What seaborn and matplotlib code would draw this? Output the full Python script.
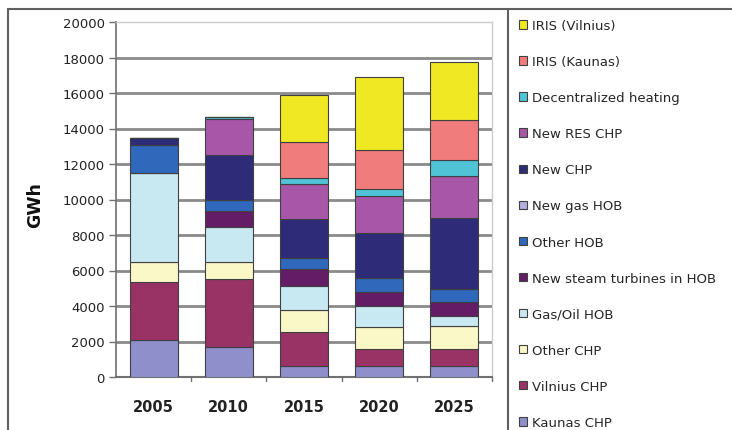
import matplotlib
matplotlib.use("Agg")
import matplotlib.pyplot as plt
import seaborn as sns
import numpy as np
from matplotlib.patches import Patch
from matplotlib.lines import Line2D

years = ["2005", "2010", "2015", "2020", "2025"]
series = ["Kaunas CHP", "Vilnius CHP", "Other CHP", "Gas/Oil HOB",
          "New steam turbines in HOB", "Other HOB", "New gas HOB", "New CHP",
          "New RES CHP", "Decentralized heating", "IRIS (Kaunas)", "IRIS (Vilnius)"]
kaunas_chp = [2100, 1700, 600, 600, 600]
vilnius_chp = [3250, 3800, 1950, 1000, 1000]
other_chp = [1150, 1000, 1200, 1200, 1250]
gas_oil_hob = [5000, 1950, 1400, 1200, 600]
new_steam_hob = [0, 900, 950, 800, 750]
other_hob = [1550, 650, 600, 800, 750]
new_gas_hob = [0, 0, 0, 0, 0]
new_chp = [400, 2500, 2200, 2500, 4000]
new_res_chp = [0, 2050, 2000, 2100, 2350]
decentralized = [0, 80, 300, 400, 900]
iris_kaunas = [0, 0, 2050, 2200, 2300]
iris_vilnius = [0, 0, 2650, 4100, 3250]
values = [kaunas_chp, vilnius_chp, other_chp, gas_oil_hob, new_steam_hob, other_hob,
          new_gas_hob, new_chp, new_res_chp, decentralized, iris_kaunas, iris_vilnius]
colors = ["#8f8fcc", "#993366", "#fbf8c8", "#c8e9f1", "#641c66", "#3068bc",
          "#b4aedc", "#2e2b78", "#a857a8", "#50c4d6", "#f07c7c", "#efe823"]

sns.set_theme(style="white")
plt.rcParams["font.family"] = ["DejaVu Sans"]

fig = plt.figure(figsize=(7.32, 4.31), dpi=100)
ax = fig.add_axes([116/732, 1-378/431, (492-116)/732, (378-23)/431])

bottom = np.zeros(len(years))
for name, vals, c in zip(series, values, colors):
    sns.barplot(x=years, y=vals, bottom=bottom, color=c, width=0.64,
                edgecolor="#404040", linewidth=0.8, ax=ax, zorder=3,
                saturation=1)
    bottom = bottom + np.array(vals)

ax.set_ylim(0, 20000)
ax.set_xlim(-0.5, 4.5)
ax.set_yticks(np.arange(0, 20001, 2000))
ax.set_yticklabels([str(v) for v in range(0, 20001, 2000)], fontsize=9.5, color="#222222")
ax.set_xticks(range(len(years)))
ax.set_xticklabels(years, fontsize=10.5, fontweight="bold", color="#222222")
ax.tick_params(axis="x", length=0, pad=16)
ax.tick_params(axis="y", length=5, width=1, color="#707070", left=True, pad=3)
for yv in range(2000, 20001, 2000):
    ax.axhline(yv, color="#8a8a8a" if yv < 20000 else "#c8c8c8", lw=2 if yv < 20000 else 1.2, zorder=1)
for xv in [0.5, 1.5, 2.5, 3.5, 4.5]:
    ax.plot([xv, xv], [0, -250], color="#707070", lw=1, clip_on=False, zorder=2)
ax.set_ylabel("")
ax.set_xlabel("")
fig.text(35/732, 1-205/431, "GWh", rotation=90, fontsize=12.5, fontweight="bold",
         ha="center", va="center", color="#111111")
for s in ["top", "right"]:
    ax.spines[s].set_color("#cccccc")
    ax.spines[s].set_linewidth(1)
ax.spines["left"].set_color("#707070")
ax.spines["bottom"].set_color("#707070")
ax.spines["left"].set_linewidth(1.2)
ax.spines["bottom"].set_linewidth(1.5)

# outer frame
fig.add_artist(Line2D([8/732, 8/732], [0, 1-10/431], color="#606060", lw=1.5))
fig.add_artist(Line2D([8/732, 1], [1-10/431, 1-10/431], color="#606060", lw=1.5))
fig.add_artist(Line2D([508/732, 508/732], [0, 1-10/431], color="#606060", lw=1.5))

handles = [Patch(facecolor=c, edgecolor="#404040", linewidth=0.8) for c in colors][::-1]
labels = series[::-1]
fig.legend(handles, labels, loc="upper left", bbox_to_anchor=(519/732, 1-20/431),
           frameon=False, fontsize=9.5, labelspacing=1.75, handlelength=0.6,
           handleheight=0.6, handletextpad=0.35, borderaxespad=0, borderpad=0)

fig.savefig("out.png", dpi=100)
